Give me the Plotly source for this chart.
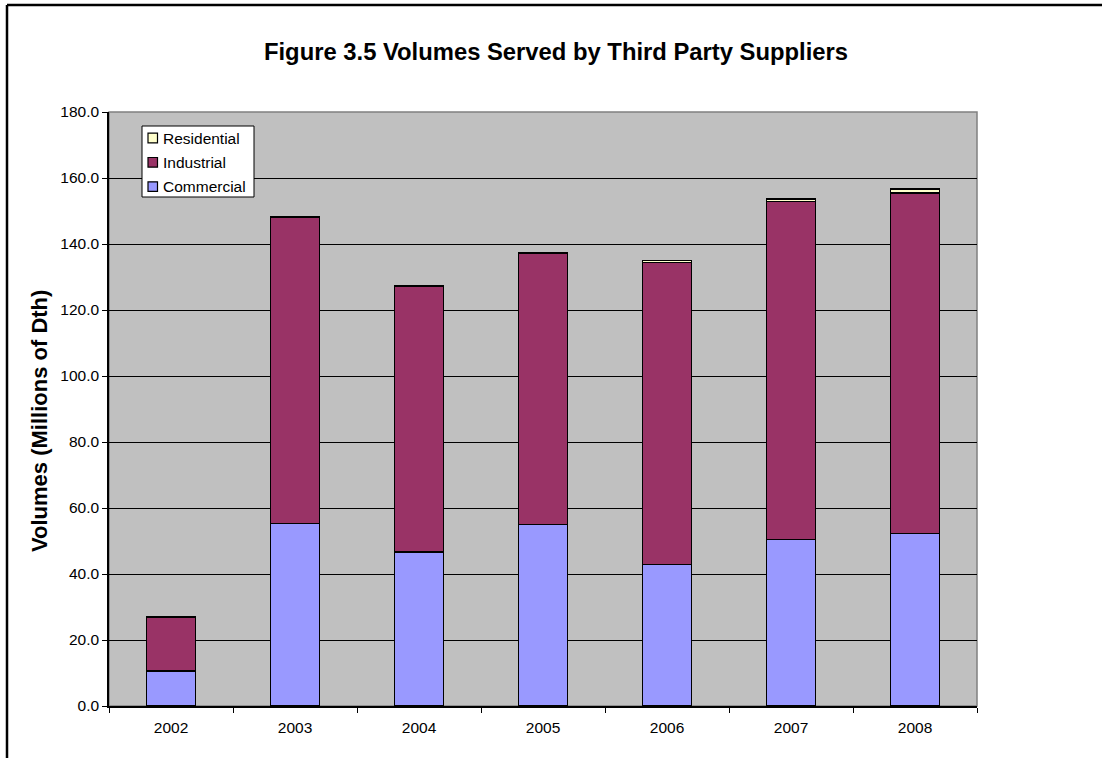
import plotly.graph_objects as go

years = ["2002", "2003", "2004", "2005", "2006", "2007", "2008"]
commercial = [10.6, 55.2, 46.7, 55.0, 42.8, 50.5, 52.2]
industrial = [16.4, 93.0, 80.4, 82.1, 91.6, 102.3, 103.3]
residential = [0.0, 0.1, 0.3, 0.3, 0.5, 0.8, 1.2]

series = [
    ("Commercial", commercial, "#9999FF"),
    ("Industrial", industrial, "#993366"),
    ("Residential", residential, "#FFFFCC"),
]

W, H = 1102, 758
L, R, T, B = 109, 125, 112, 52
pw, ph = W - L - R, H - T - B
FONT = "Liberation Sans, Arial, sans-serif"


def px_x(x):
    return (x - L) / pw


def px_y(y):
    return 1 - (y - T) / ph


fig = go.Figure()
for name, vals, color in series:
    fig.add_trace(go.Bar(
        x=years, y=vals, name=name,
        marker=dict(color=color, line=dict(color="black", width=1.3)),
        width=0.4, showlegend=False,
    ))

shapes = [
    # plot-area frame
    dict(type="rect", xref="paper", yref="paper", x0=0, y0=0, x1=1, y1=1,
         line=dict(color="#808080", width=1.5), layer="below"),
    # outer chart border (left and top edges)
    dict(type="line", xref="paper", yref="paper",
         x0=px_x(7), y0=px_y(5), x1=px_x(7), y1=px_y(760),
         line=dict(color="black", width=2.5)),
    dict(type="line", xref="paper", yref="paper",
         x0=px_x(7), y0=px_y(5), x1=px_x(1105), y1=px_y(5),
         line=dict(color="black", width=2.5)),
    # legend box
    dict(type="rect", xref="paper", yref="paper",
         x0=px_x(142), y0=px_y(197), x1=px_x(254), y1=px_y(126),
         fillcolor="white", line=dict(color="black", width=1)),
]

annotations = [
    # y-axis title
    dict(x=px_x(39), y=px_y(421), xref="paper", yref="paper",
         text="<b>Volumes (Millions of Dth)</b>", textangle=-90, showarrow=False,
         xanchor="center", yanchor="middle",
         font=dict(size=22, family=FONT, color="black")),
]
# legend entries, listed top to bottom in reverse stacking order
for i, (name, _, color) in enumerate(reversed(series)):
    cy = 138 + 24.3 * i
    shapes.append(dict(
        type="rect", xref="paper", yref="paper",
        x0=px_x(148), x1=px_x(157.5), y0=px_y(cy + 4.8), y1=px_y(cy - 4.8),
        fillcolor=color, line=dict(color="black", width=1.2),
    ))
    annotations.append(dict(
        x=px_x(160.5), y=px_y(cy), xref="paper", yref="paper",
        text=name, showarrow=False, xanchor="left", yanchor="middle",
        font=dict(size=15.5, family=FONT, color="black"),
    ))

fig.update_layout(
    width=W, height=H,
    margin=dict(l=L, r=R, t=T, b=B),
    barmode="stack",
    paper_bgcolor="white",
    plot_bgcolor="#C0C0C0",
    font=dict(family=FONT, color="black", size=15.5),
    title=dict(
        text="<b>Figure 3.5 Volumes Served by Third Party Suppliers</b>",
        x=px_x(556), xref="paper", xanchor="center",
        y=1 - 52 / H, yanchor="middle",
        font=dict(size=23.8, family=FONT),
    ),
    showlegend=False,
    shapes=shapes,
    annotations=annotations,
)

fig.update_yaxes(
    range=[0, 180], dtick=20, tickformat=".1f",
    showgrid=True, gridcolor="black", gridwidth=1,
    showline=True, linecolor="black", linewidth=1.5,
    ticks="outside", ticklen=5, tickcolor="black",
    tickfont=dict(size=15.5),
    zeroline=False,
)
fig.update_xaxes(
    showline=True, linecolor="black", linewidth=1.5,
    ticks="outside", ticklen=5, tickcolor="black", tickson="boundaries",
    tickfont=dict(size=15.5), ticklabelstandoff=7,
    showgrid=False,
)

fig.write_html("out.html")
